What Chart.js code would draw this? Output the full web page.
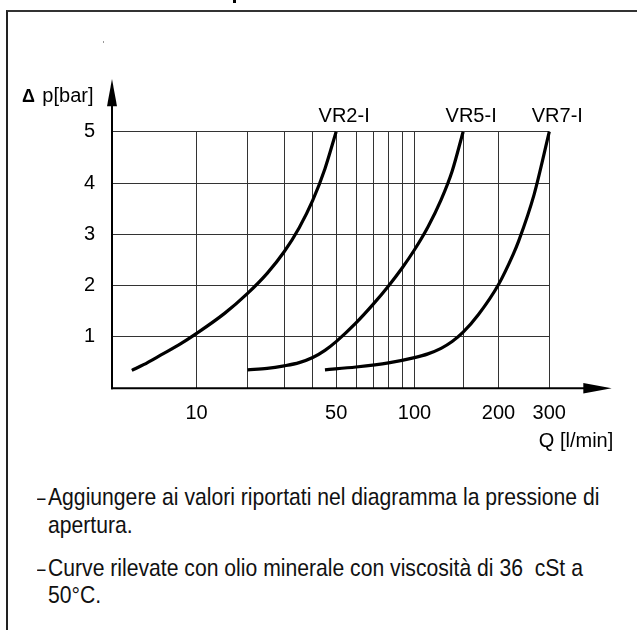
<!DOCTYPE html>
<html>
<head>
<meta charset="utf-8">
<script src="https://cdn.jsdelivr.net/npm/chart.js@4.4.1/dist/chart.umd.min.js"></script>
<style>
  html, body { margin: 0; padding: 0; background: #fff; }
  body { width: 637px; height: 630px; position: relative; overflow: hidden; font-family: "Liberation Sans", Arial, sans-serif; }
  #frame { position: absolute; left: 6px; top: 10px; right: -10px; bottom: -10px; border-top: 2px solid #333; border-left: 2px solid #222; }
  #chart { position: absolute; left: 0; top: 0; }
  .note { position: absolute; font-size: 24.6px; line-height: 1; white-space: nowrap; transform: scaleX(0.86); transform-origin: 0 0; color: #111; }
  .dash { position: absolute; font-size: 24.6px; line-height: 1; transform: scaleX(0.62); transform-origin: 0 0; color: #111; }
  .bit { position: absolute; background: #000; }
</style>
</head>
<body>
<div id="frame"></div>
<div class="bit" style="left:233px;top:0;width:3px;height:3px"></div>
<div class="bit" style="left:103px;top:41px;width:1px;height:2px;background:#999"></div>
<canvas id="chart" width="637" height="470"></canvas>

<div class="dash" style="left:36.5px;top:485px">–</div>
<div class="note" style="left:48.3px;top:485px">Aggiungere ai valori riportati nel diagramma la pressione di</div>
<div class="note" style="left:48.3px;top:513px">apertura.</div>
<div class="dash" style="left:36.5px;top:556px">–</div>
<div class="note" style="left:48.3px;top:556px">Curve rilevate con olio minerale con viscosità di 36&nbsp; cSt a</div>
<div class="note" style="left:48.3px;top:582.5px">50°C.</div>

<script>
// curve names
const seriesNames = ["VR2-I", "VR5-I", "VR7-I"];

// flow Q [l/min] and pressure drop [bar]
const vr2Q  = [1.8, 3, 5, 7.5, 10, 15, 20, 25, 30, 35, 40, 45, 50];
const vr2Dp = [0.35, 0.46, 0.65, 0.86, 1.07, 1.46, 1.85, 2.24, 2.66, 3.13, 3.66, 4.28, 5.0];

const vr5Q  = [20, 25, 30, 35, 40, 45, 50, 60, 70, 80, 90, 100, 112, 125, 137, 150];
const vr5Dp = [0.36, 0.387, 0.437, 0.5, 0.6, 0.74, 0.91, 1.275, 1.64, 1.995, 2.345, 2.7, 3.144, 3.672, 4.23, 5.0];

const vr7Q  = [45, 60, 80, 100, 112, 125, 137, 150, 170, 200, 225, 235, 266, 300];
const vr7Dp = [0.36, 0.415, 0.496, 0.598, 0.671, 0.778, 0.911, 1.093, 1.438, 2.023, 2.61, 2.867, 3.779, 5.0];

// axes
const gridQ  = [10, 20, 30, 40, 50, 60, 70, 80, 90, 100, 150, 200, 300];
const labelQ = [10, 50, 100, 200, 300];
const yTicks = [1, 2, 3, 4, 5];

// the Q axis of the original is a log scale shifted by ~11 l/min so it starts at 0
const Q_SHIFT = 11;

class ShiftedLogScale extends Chart.LinearScale {
  buildTicks() {
    return gridQ.map(v => ({ value: v }));
  }
  _f(v) {
    return Math.log10(v + Q_SHIFT);
  }
  getPixelForValue(value) {
    const t = (this._f(value) - this._f(this.min)) / (this._f(this.max) - this._f(this.min));
    return this.getPixelForDecimal(t);
  }
  getValueForPixel(pixel) {
    const t = this.getDecimalForPixel(pixel);
    const f0 = this._f(this.min), f1 = this._f(this.max);
    return Math.pow(10, f0 + t * (f1 - f0)) - Q_SHIFT;
  }
}
ShiftedLogScale.id = "shiftedLog";
ShiftedLogScale.defaults = {};
Chart.register(ShiftedLogScale);

const FONT = "'Liberation Sans', Arial, sans-serif";

function toPoints(qs, dps) {
  return qs.map((q, i) => ({ x: q, y: dps[i] }));
}

// axes with arrows, axis titles and curve names
const decor = {
  id: "decor",
  afterDraw(chart) {
    const { ctx, chartArea: a } = chart;
    ctx.save();
    ctx.strokeStyle = "#000";
    ctx.fillStyle = "#000";
    ctx.lineWidth = 2;

    // y axis + arrow
    ctx.beginPath();
    ctx.moveTo(a.left, a.bottom + 1);
    ctx.lineTo(a.left, a.top - 30);
    ctx.stroke();
    ctx.beginPath();
    ctx.moveTo(a.left, a.top - 52.7);
    ctx.lineTo(a.left - 5, a.top - 25.5);
    ctx.lineTo(a.left + 5, a.top - 25.5);
    ctx.closePath();
    ctx.fill();

    // x axis + arrow
    ctx.beginPath();
    ctx.moveTo(a.left - 1, a.bottom);
    ctx.lineTo(a.right + 40, a.bottom);
    ctx.stroke();
    ctx.beginPath();
    ctx.moveTo(a.right + 62.4, a.bottom);
    ctx.lineTo(a.right + 34, a.bottom - 5.2);
    ctx.lineTo(a.right + 34, a.bottom + 5.2);
    ctx.closePath();
    ctx.fill();

    // axis titles
    ctx.textBaseline = "alphabetic";
    ctx.font = "bold 18px " + FONT;
    ctx.textAlign = "left";
    ctx.fillText("\u0394", a.left - 90, a.top - 29.7);
    ctx.font = "20px " + FONT;
    ctx.textAlign = "right";
    ctx.fillText("p[bar]", a.left - 18.5, a.top - 29.7);
    ctx.fillText("Q [l/min]", a.right + 64, a.bottom + 58.7);

    // curve names above the curve ends
    ctx.textAlign = "center";
    chart.data.datasets.forEach((ds, i) => {
      const pts = chart.getDatasetMeta(i).data;
      const last = pts[pts.length - 1];
      ctx.fillText(ds.label, last.x + 8, a.top - 10);
    });
    ctx.restore();
  }
};

const curveStyle = {
  borderColor: "#000",
  borderWidth: 3.2,
  pointRadius: 0,
  cubicInterpolationMode: "monotone",
  fill: false,
  clip: 6
};

new Chart(document.getElementById("chart"), {
  type: "line",
  data: {
    datasets: [
      { label: seriesNames[0], data: toPoints(vr2Q, vr2Dp), ...curveStyle },
      { label: seriesNames[1], data: toPoints(vr5Q, vr5Dp), ...curveStyle },
      { label: seriesNames[2], data: toPoints(vr7Q, vr7Dp), ...curveStyle }
    ]
  },
  options: {
    responsive: false,
    animation: false,
    layout: { padding: { left: 0, top: 131.7, right: 87.7, bottom: 41.7 } },
    plugins: { legend: { display: false }, tooltip: { enabled: false } },
    scales: {
      x: {
        type: "shiftedLog",
        min: 0,
        max: 300,
        afterFit: s => { s.height = 40; },
        grid: { color: "#333", lineWidth: 1, drawTicks: false },
        border: { display: false },
        ticks: {
          autoSkip: false,
          maxRotation: 0,
          padding: 13,
          color: "#000",
          font: { family: FONT, size: 20 },
          callback: v => (labelQ.includes(v) ? String(v) : "")
        }
      },
      y: {
        type: "linear",
        min: 0,
        max: 5,
        afterFit: s => { s.width = 112; },
        afterBuildTicks: s => { s.ticks = yTicks.map(v => ({ value: v })); },
        grid: { color: "#333", lineWidth: 1, drawTicks: false },
        border: { display: false },
        ticks: {
          padding: 17,
          color: "#000",
          font: { family: FONT, size: 20 }
        }
      }
    }
  },
  plugins: [decor]
});
</script>
</body>
</html>
